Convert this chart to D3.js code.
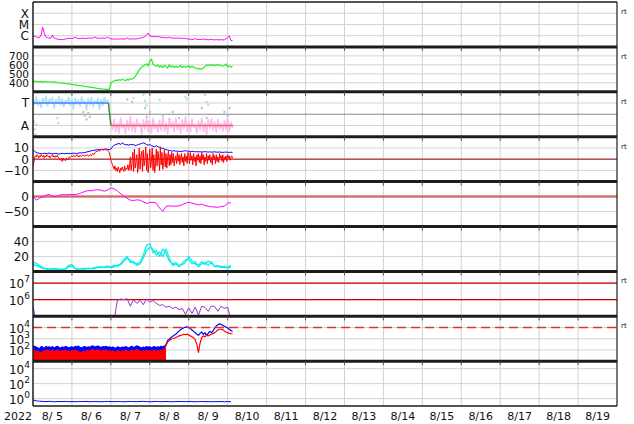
<!DOCTYPE html>
<html><head><meta charset="utf-8">
<script src="https://cdn.jsdelivr.net/npm/d3@7"></script>
<style>body{margin:0;background:#fff}svg{display:block}text{font-family:"DejaVu Sans",sans-serif;fill:#111}</style>
</head><body><svg id="c" width="634" height="424"></svg>
<script>
// ---------------- DATA ----------------
const yearLabel = "2022";
const dayLabels = ["8/ 5","8/ 6","8/ 7","8/ 8","8/ 9","8/10","8/11","8/12","8/13","8/14","8/15","8/16","8/17","8/18","8/19"];

// X-ray flux (W/m2), hourly from 8/5 00:00
const xray = [9.5e-7,9e-7,8e-7,6.5e-7,6.8e-7,1.2e-6,5.6e-6,1.5e-6,7.5e-7,6.5e-7,6e-7,6.2e-7,1.1e-6,6e-7,5.5e-7,5e-7,4.6e-7,4.5e-7,4.4e-7,4.6e-7,
5e-7,5.5e-7,5.8e-7,5.6e-7,5.8e-7,6e-7,7.5e-7,6e-7,5.7e-7,5.5e-7,5.8e-7,6e-7,5.6e-7,5.8e-7,6e-7,6.2e-7,5.9e-7,6.1e-7,7.8e-7,6.2e-7,
6e-7,5.8e-7,6e-7,6.3e-7,5.9e-7,6.1e-7,7.5e-7,6e-7,5.2e-7,5e-7,4.9e-7,5e-7,5.1e-7,5e-7,5.2e-7,5e-7,5.1e-7,5e-7,6.5e-7,5.1e-7,
5e-7,5e-7,5.3e-7,5e-7,5.2e-7,5.5e-7,6e-7,6.5e-7,7e-7,8e-7,1.2e-6,1.7e-6,9.5e-7,8.5e-7,8e-7,8.5e-7,7.8e-7,8.8e-7,7.5e-7,7e-7,
7.3e-7,6.8e-7,6.4e-7,6.5e-7,7.5e-7,6.2e-7,6e-7,6.1e-7,5.8e-7,6.3e-7,6e-7,5.9e-7,5.7e-7,6e-7,5.5e-7,5.2e-7,5e-7,4.8e-7,4.7e-7,4.6e-7,
5.5e-7,4.7e-7,4.5e-7,4.6e-7,4.5e-7,5.2e-7,4.4e-7,4.5e-7,4.3e-7,4.4e-7,4.8e-7,4.3e-7,4.2e-7,4.4e-7,4.3e-7,4.2e-7,4.5e-7,4.1e-7,4.3e-7,5.5e-7,
7e-7,9.5e-7,3.8e-7,3.6e-7];
const xrayTickVals = [1e-4,1e-5,1e-6];
const xrayTickLabels = ["X","M","C"];

// Solar wind speed (km/s), hourly
const speed = [420,415,418,410,412,416,408,411,414,406,410,409,412,405,408,404,400,
398,395,397,392,388,390,385,383,380,378,375,372,370,366,364,360,357,355,352,
349,346,343,340,338,336,333,331,330,328,326,327,
395,415,420,430,425,435,428,440,432,425,438,430,445,440,450,
470,500,530,555,575,590,600,610,590,640,665,610,595,585,600,575,590,570,595,580,
565,600,575,590,570,585,575,580,595,570,585,575,580,590,570,585,575,565,560,555,
560,550,565,580,600,590,605,595,600,590,605,595,600,590,585,595,610,580,590,575,585];
const speedTicks = [700,600,500,400];

// IMF sector: phi angle (deg), hourly; toward part from hour 0, away part from hour 48
const phiToward = [300,260,320,250,290,235,310,270,325,245,300,280,315,230,295,265,320,255,305,240,
290,275,315,250,300,225,310,260,295,245,320,270,285,215,305,255,315,240,290,265,310,220,300,250,315,270,295,250];
const phiAway = [120,60,140,40,110,30,150,70,100,25,130,55,160,45,115,35,140,80,105,20,
135,60,150,40,120,30,145,65,100,35,130,50,155,45,110,25,140,70,120,40,
150,55,105,30,135,60,160,45,115,35,140,75,100,30,125,55,150,40,110,20,
135,65,145,50,120,35,140,60,105,45,130,55,150,40,115,70];
const phiAwayStart = 48;
const phiGrayPts = [[31,200],[32,170],[33,140],[34,190],[35,160],[58,300],[61,280],[69,230],[70,160],[71,120],[72,200],[80,170],[84,140],[86,200],[90,150],[104,230],[106,180],[107,150],[118,200],[120,170],[121,230]];
const phiBluePts = [[62,312],[68,336],[69,290],[70,250],[78,296],[94,320],[95,300],[106,336],[107,280],[108,256]];
const phiPinkPts = [[0.5,120],[1,60],[1.5,20],[2,100],[15,150],[15.5,110]];
const sectorHours = [0,46.5,48,123.3];
const sectorStates = ["T","T","A","A"];
const sectorPhi = {T:270, A:90};
const sectorTickLabels = ["T","A"];

// IMF Bt (nT) hourly, Bz (nT) half-hourly
const bt = [8.5,7,6,5.5,5.2,4.8,5,5.3,4.9,5.1,5.4,5,4.7,5,5.2,4.8,4.5,4.9,5.1,5,4.8,5.2,5,4.9,5.1,5.3,
5.2,5,5.4,5.6,5.5,5.8,6,6.3,6.8,7,7.5,7.8,8,8.2,8.5,8.3,8.7,8.5,8.8,9,8.7,8.5,
9,11,12.5,13,13.5,14,13,14.5,13.5,12.8,13,12.5,13.2,12.8,13,12,12.5,13,13.5,14,
14.5,14,13,12.5,13,12,11.5,11,12,11,10.5,10,9.5,9,8.5,8,7.8,7.5,7.2,7.5,
7,7.2,7,6.8,7,7.3,7.5,7.2,7,6.8,7,6.8,6.5,6.7,6.5,6.6,6.4,6.5,6.7,6.5,
6.3,6.5,6.2,6.4,6.5,6.3,6.2,6.4,6.1,6,6.2,6.3,6.1,6,6.2,6];
const bz = [-6,-3,1,3,2,4,3,1,3,2,4,3,2,3.5,1,3,2,4,3,2,3,1,2.5,3,4,2,3,1.5,3,2,3.5,2,1,0,-1,0.5,-2,1,-1,0,-1.5,1,0.5,-0.5,1,2,1.5,2.5,
3,2,3.5,3,2,3,4,2.5,3,2,3.5,3,2.5,3.5,4,3,2.5,3.5,3,4,3,2.5,3.5,4,3,4.5,5,4,5.5,6,7,6.5,7.5,8,7,8.5,8,9,8.5,8,9,8.5,8,8.5,8,7,6,3,
-1,-3,-5,-7,-9,-6,-10,-8,-11,-7,-9,-12,-8,-10,-7,-9,-11,-6,-10,-8,-9,-5,-10,-7,
2,-10,-4,6,-11,9,-8,-2,4,-12,-6,10,-9,3,7,-11,8,-6,-1,11,-10,5,-12,-3,
9,-8,-2,10,-10,4,-12,-5,9,-6,7,1,-10,11,-5,6,-9,-3,8,-7,5,-8,2,7,
-6,4,-5,6,-3,5,-6,0,3,-4,6,-2,4,-5,1,5,-3,2,-6,5,-2,3,-4,6,
4,-4,6,-1,3,-5,5,-2,2,-6,4,-1,5,-3,3,-4,6,0,4,-5,2,-2,5,-4,3,-1,4,-3,2,-5,5,0,3,-4,4,-2,2,-3,5,1,3,-2,4,-3,2,0,3,-2,4,1,3,-1,2,3,1];
const imfTicks = [10,0,-10];

// Dst (nT), 2-hourly
const dst = [1,-12,-6,-1,5,7,2,-1,4,7,6,7,7,7,9,13,17,20,19,22,23,21,18,22,29,26,19,10,2,-6,
-12,-13,-11,-12,-18,-23,-20,-19,-22,-38,-49,-33,-31,-32,-32,-31,-27,-22,-19,-22,-25,-28,-25,-30,-32,-34,-35,-36,-33,-32,-22,-20];
const dstTicks = [0,-50];

// Solar wind density (two sources), 2-hourly
const densA = [12,11,8,5,4,3,3.5,3,2.5,3,3.5,8,9,4,3,3,4,3.5,4,5,6,5,6,7,6,8,7,9,13,18,
15,11,10,12,22,35,37,25,28,20,30,24,14,10,12,8,9,12,20,14,10,8,13,9,14,11,7,6,7,5,6,8];
const densB = [9,8,6,4,3,2.5,3,4,3,2.5,3,6,7,3.5,2.5,3.5,3,4.5,3.5,4,5,6,5,6,5,6,8,10,16,20,
12,13,8,10,18,28,32,30,22,26,20,30,18,8,10,6,11,15,16,10,13,6,10,12,8,13,6,8,5,7,4,6];
const densTicks = [40,20];

// Electron flux, 2-hourly
const electrons = [4e5,5e4,3e4,3e4,3e4,3e4,3e4,3e4,3e4,3e4,3e4,1.2e5,3e4,3e4,3e4,3e4,3e4,3e4,3e4,3e4,
3e4,3e4,3e4,3e4,3e4,6e4,9e5,1.1e6,1e6,1.15e6,4e5,1e6,6e5,9e5,5e5,1.1e6,7e5,9e5,6e5,4.5e5,
5e5,3.5e5,4e5,3e5,3.5e5,2.5e5,3e5,1.3e5,3.2e5,1.5e5,3.5e5,1.2e5,4e5,3.5e5,2e5,4.2e5,3.8e5,2e5,4e5,3e5,3.5e5,6e4];
const elecTickExps = [7,6];
const elecAlertLevels = [1e6,1e7];

// Proton/particle flux, hourly (blue and red channels)
const partBlue = [250,200,180,150,120,200,180,140,210,170,190,160,200,150,180,210,170,140,190,160,
200,180,150,170,190,160,210,180,220,170,150,180,200,160,190,170,210,230,180,200,
220,190,160,200,180,210,170,190,150,180,160,140,190,170,150,180,160,200,170,140,
180,210,160,190,230,200,170,150,180,160,200,170,190,150,180,200,160,190,170,210,180,220,300,
700,900,1300,1600,2000,2500,3500,5000,6500,8000,9500,11000,11500,10000,8000,6000,4500,3500,2500,2000,
3000,4000,2500,3500,2000,3000,4500,3500,5000,9000,14000,18000,22000,18000,16000,13000,11000,9000,7000,5500,4500];
const partRed = [110,90,70,80,60,50,70,90,80,100,85,70,95,60,80,100,75,65,90,80,
95,70,85,60,90,75,100,80,70,60,50,80,60,90,85,70,100,110,80,90,
100,85,70,95,80,100,75,90,60,85,70,60,90,75,60,85,70,95,80,60,
85,100,70,90,110,95,75,65,85,70,95,75,90,65,85,95,70,90,80,100,90,120,250,
500,700,900,1000,1100,1300,1500,1800,2000,2200,2500,2300,2600,2200,1800,1500,1200,800,300,60,
400,1300,1800,1500,2000,1800,2200,2500,3000,3500,4500,6000,7000,7000,6500,5000,4000,3500,3000,2800,2800];
const partNoisyUntilHour = 82;
const partTickExps = [4,3,2];
const partAlertLevel = 1e4;

// bottom panel, 2-hourly
const p9 = [0.65,0.5,0.45,0.42,0.4,0.43,0.4,0.38,0.41,0.4,0.42,0.39,0.4,0.38,0.41,0.4,0.42,0.4,0.39,0.41,
0.4,0.38,0.4,0.42,0.4,0.39,0.41,0.4,0.38,0.4,0.42,0.4,0.39,0.41,0.43,0.4,0.38,0.4,0.42,0.4,
0.39,0.41,0.4,0.38,0.4,0.42,0.4,0.39,0.41,0.4,0.38,0.4,0.41,0.39,0.4,0.38,0.4,0.39,0.41,0.38,0.4,0.39];
const p9TickExps = [4,2,0];

// ---------------- DRAW ----------------
const svg = d3.select('#c');
const X0 = 33, X1 = 617, Y0 = 2, PH = 44.9, NP = 9;
const x = d3.scaleLinear().domain([0, 360]).range([X0, X1]);
const pTop = i => Y0 + i * PH;
const mkY = (i, s) => s.range([pTop(i) + PH, pTop(i)]);
const series = (arr, step, start = 0) => arr.map((v, i) => [start + i * step, v]);

const yX = mkY(0, d3.scaleLog().domain([1e-7, 1e-3]));
const yV = mkY(1, d3.scaleLinear().domain([300, 800]));
const yS = mkY(2, d3.scaleLinear().domain([0, 360]));
const yB = mkY(3, d3.scaleLinear().domain([-20, 20]));
const yD = mkY(4, d3.scaleLinear().domain([-100, 50]));
const yN = mkY(5, d3.scaleLinear().domain([0, 60]));
const yE = mkY(6, d3.scaleLog().domain([1e5, 5e7]));
const yP = mkY(7, d3.scaleLog().domain([1e1, 1e5]));
const y9 = mkY(8, d3.scaleLog().domain([1e-1, 1e5]));

const defs = svg.append('defs');
for (let i = 0; i < NP; i++) {
  defs.append('clipPath').attr('id', 'cp' + i).append('rect')
    .attr('x', X0).attr('y', pTop(i)).attr('width', X1 - X0).attr('height', PH);
}
const grid = svg.append('g');
const panelG = d3.range(NP).map(i => svg.append('g').attr('clip-path', `url(#cp${i})`));
const frame = svg.append('g');
const labels = svg.append('g');

// vertical day grid
const dayBounds = d3.range(1, 15).map(d => d * 24);
grid.selectAll(null).data(dayBounds).enter().append('line')
  .attr('x1', d => x(d)).attr('x2', d => x(d)).attr('y1', Y0).attr('y2', pTop(NP))
  .attr('stroke', '#d2d2d2').attr('stroke-width', 1);

function hgrid(y, vals, color = '#d2d2d2', w = 1, dash = null, g = grid) {
  const s = g.selectAll(null).data(vals).enter().append('line')
    .attr('x1', X0).attr('x2', X1).attr('y1', d => y(d)).attr('y2', d => y(d))
    .attr('stroke', color).attr('stroke-width', w);
  if (dash) s.attr('stroke-dasharray', dash);
  return s;
}
function textLabels(y, vals, txt, fs = 12) {
  labels.selectAll(null).data(vals).enter().append('text')
    .attr('x', 29).attr('y', d => y(d) + fs * 0.37).attr('text-anchor', 'end')
    .attr('font-size', fs).text((d, i) => txt[i]);
}
function expLabels(y, exps) {
  exps.forEach(e => {
    const t = labels.append('text').attr('x', 30).attr('y', y(Math.pow(10, e)) + 5)
      .attr('text-anchor', 'end').attr('font-size', 12);
    t.append('tspan').text('10');
    t.append('tspan').attr('dy', -6).attr('font-size', 9).text(e);
  });
}
const fmtMinus = d => d < 0 ? '\u2212' + Math.abs(d) : String(d);

// grids + labels
hgrid(yX, xrayTickVals); textLabels(yX, xrayTickVals, xrayTickLabels);
hgrid(yV, speedTicks); textLabels(yV, speedTicks, speedTicks.map(String), 10.5);
hgrid(yS, [sectorPhi.T, sectorPhi.A]); hgrid(yS, [180], '#888', 1);
textLabels(yS, [sectorPhi.T, sectorPhi.A], sectorTickLabels);
hgrid(yB, imfTicks); textLabels(yB, imfTicks, imfTicks.map(fmtMinus));
hgrid(yD, dstTicks); textLabels(yD, dstTicks, dstTicks.map(fmtMinus));
hgrid(yN, densTicks); textLabels(yN, densTicks, densTicks.map(String));
hgrid(yE, elecTickExps.map(e => Math.pow(10, e))); expLabels(yE, elecTickExps);
hgrid(yP, partTickExps.map(e => Math.pow(10, e))); expLabels(yP, partTickExps);
hgrid(y9, p9TickExps.map(e => Math.pow(10, e))); expLabels(y9, p9TickExps);

const lineOf = y => d3.line().x(d => x(d[0])).y(d => y(d[1]));
function drawLine(i, y, data, color, w = 1, op = 1) {
  panelG[i].append('path').datum(data).attr('d', lineOf(y)).attr('fill', 'none')
    .attr('stroke', color).attr('stroke-width', w).attr('stroke-opacity', op)
    .attr('stroke-linejoin', 'round');
}
function drawPts(i, y, pts, color) {
  panelG[i].selectAll(null).data(pts).enter().append('rect')
    .attr('x', d => x(d[0]) - 1).attr('y', d => y(d[1]) - 1).attr('width', 2.2).attr('height', 2.2)
    .attr('fill', color);
}

// Panel 1 X-ray
drawLine(0, yX, series(xray, 1), '#ff00ff', 1);
// Panel 2 speed
drawLine(1, yV, series(speed, 1), '#22ee22', 1.2);
// Panel 3 sector
drawPts(2, yS, phiGrayPts, '#c4c4c4');
drawLine(2, yS, series(phiToward, 1), '#a8e2fb', 1.6, 0.95);
drawLine(2, yS, series(phiAway, 1, phiAwayStart), '#f8b8f2', 1.6, 0.95);
drawPts(2, yS, phiBluePts, '#a8e2fb');
drawPts(2, yS, phiPinkPts, '#f8b8f2');
const sectorColor = (a, b) => a === b ? (a === 'T' ? '#5a78ff' : '#ff5c5c') : '#3d8a3d';
for (let k = 0; k < sectorHours.length - 1; k++) {
  panelG[2].append('line')
    .attr('x1', x(sectorHours[k])).attr('x2', x(sectorHours[k + 1]))
    .attr('y1', yS(sectorPhi[sectorStates[k]])).attr('y2', yS(sectorPhi[sectorStates[k + 1]]))
    .attr('stroke', sectorColor(sectorStates[k], sectorStates[k + 1])).attr('stroke-width', 1.5);
}
// Panel 4 IMF
hgrid(yB, [0], '#a00000', 1, null, panelG[3]);
drawLine(3, yB, series(bt, 1), '#0000ff', 1);
drawLine(3, yB, series(bz, 0.5), '#ff0000', 1);
// Panel 5 Dst
hgrid(yD, [0], '#c84040', 2.5, null, panelG[4]).attr('stroke-opacity', 0.7);
drawLine(4, yD, series(dst, 2), '#ff00ff', 1);
// Panel 6 density
drawLine(5, yN, series(densB, 2), '#00eeee', 1.2);
drawLine(5, yN, series(densA, 2), '#00eeee', 1.2);
// Panel 7 electrons
hgrid(yE, elecAlertLevels, '#cc0000', 1.2, null, panelG[6]);
drawLine(6, yE, series(electrons, 2), '#9932cc', 1);
// Panel 8 particles
const pb = series(partBlue, 1), pr = series(partRed, 1);
const areaOf = y => d3.area().x(d => x(d[0])).y0(y.range()[0]).y1(d => y(d[1]));
panelG[7].append('path').datum(pb.filter(d => d[0] <= partNoisyUntilHour)).attr('d', areaOf(yP)).attr('fill', '#0000ff');
drawLine(7, yP, pb, '#0000ff', 1.2);
panelG[7].append('path').datum(pr.filter(d => d[0] <= partNoisyUntilHour)).attr('d', areaOf(yP)).attr('fill', '#ff0000');
drawLine(7, yP, pr, '#ff0000', 1.2);
hgrid(yP, [partAlertLevel], '#dd3333', 1.5, '9,5', panelG[7]);
// Panel 9
drawLine(8, y9, series(p9, 2), '#0000ff', 1);

// frame
for (let i = 1; i < NP; i++) {
  frame.append('line').attr('x1', X0).attr('x2', X1).attr('y1', pTop(i)).attr('y2', pTop(i))
    .attr('stroke', '#1c1c1c').attr('stroke-width', 3);
  frame.selectAll(null).data(dayBounds).enter().append('line')
    .attr('x1', d => x(d)).attr('x2', d => x(d)).attr('y1', pTop(i)).attr('y2', pTop(i) + 4)
    .attr('stroke', '#555').attr('stroke-width', 1);
}
frame.append('line').attr('x1', X0).attr('x2', X1).attr('y1', Y0).attr('y2', Y0).attr('stroke', '#1c1c1c').attr('stroke-width', 1.5);
frame.append('line').attr('x1', X0).attr('x2', X1).attr('y1', pTop(NP)).attr('y2', pTop(NP)).attr('stroke', '#1c1c1c').attr('stroke-width', 1.5);
frame.append('line').attr('x1', X0).attr('x2', X0).attr('y1', Y0).attr('y2', pTop(NP)).attr('stroke', '#1c1c1c').attr('stroke-width', 1.5);
frame.append('line').attr('x1', X1).attr('x2', X1).attr('y1', Y0).attr('y2', pTop(NP)).attr('stroke', '#1c1c1c').attr('stroke-width', 1.2);

// right-side "rt" marks
const rtPanels = [0, 1, 2, 3, 6, 7];
labels.selectAll(null).data(rtPanels).enter().append('text')
  .attr('x', 621).attr('y', i => pTop(i) + 12).attr('font-size', 7).attr('fill', '#333').text('rt');

// bottom labels
labels.append('text').attr('x', 18).attr('y', 420).attr('text-anchor', 'middle').attr('font-size', 11).text(yearLabel);
labels.selectAll(null).data(dayLabels).enter().append('text')
  .attr('x', (d, i) => x(i * 24 + 12)).attr('y', 420).attr('text-anchor', 'middle')
  .attr('font-size', 11).attr('xml:space', 'preserve').style('white-space', 'pre').text(d => d);
</script></body></html>
